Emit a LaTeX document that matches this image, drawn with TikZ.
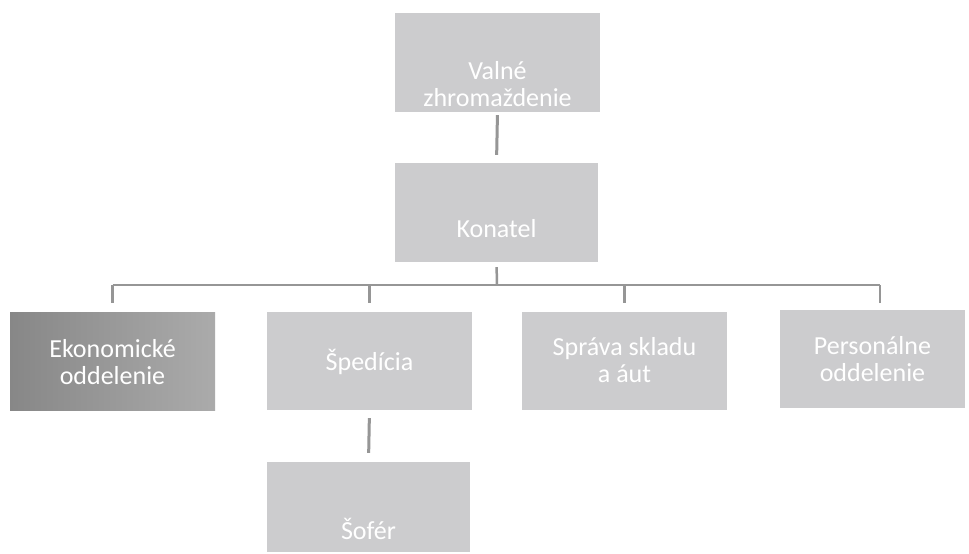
\documentclass[tikz,border=0pt]{standalone}
\usepackage{fontspec}
\setmainfont{Carlito}
\definecolor{boxgray}{RGB}{204,204,206}
\definecolor{linegray}{RGB}{150,150,150}
\begin{document}
\begin{tikzpicture}[x=1pt,y=-1pt,
  orgbox/.style={rectangle, fill=boxgray, draw=none, text=white, align=center,
    font=\fontsize{26}{27}\selectfont, inner sep=0pt},
  conn/.style={draw=linegray, line width=2.5pt}]
\useasboundingbox (0,0) rectangle (969,554);
\fill[white] (0,0) rectangle (969,554);
% boxes
\node[orgbox, minimum width=205pt, minimum height=99pt] (vz) at (497.5,62.5) {};
\node[orgbox, minimum width=203pt, minimum height=99pt] (kon) at (496.5,212.5) {};
\node[orgbox, minimum width=205pt, minimum height=98pt, fill=none, left color=black!47, right color=black!33] (eko) at (112.5,361) {};
\node[orgbox, minimum width=205pt, minimum height=98pt] (spe) at (369.5,361) {};
\node[orgbox, minimum width=205pt, minimum height=98pt] (spr) at (624.5,361) {};
\node[orgbox, minimum width=185pt, minimum height=98pt] (per) at (872.5,359) {};
\node[orgbox, minimum width=203pt, minimum height=90pt] (sof) at (368.5,507) {};
% texts
\node[orgbox, fill=none] (vzt) at (497.5,84) {Valné\\zhromaždenie};
\node[orgbox, fill=none] (kont) at (496.5,229) {Konatel};
\node[orgbox, fill=none] (ekot) at (112.5,362) {Ekonomické\\oddelenie};
\node[orgbox, fill=none] (spet) at (369.5,362) {Špedícia};
\node[orgbox, fill=none] (sprt) at (624.5,360) {Správa skladu\\a áut};
\node[orgbox, fill=none] (pert) at (872.5,359) {Personálne\\oddelenie};
\node[orgbox, fill=none] (soft) at (368.5,529) {Šofér};
% connectors
\coordinate (bus) at (497,285);
\coordinate (d4) at (880,303);
\draw[conn, line width=3pt, shorten <=3pt, shorten >=8pt] (vz.south) -- (kon.north);
\draw[conn, shorten <=5pt] (kon.south) -- (bus);
\draw[conn] (eko.north |- bus) -- (d4 |- bus);
\draw[conn, shorten <=9pt] (eko.north) -- (eko.north |- bus);
\draw[conn, shorten <=9pt] (spe.north) -- (spe.north |- bus);
\draw[conn, shorten <=9pt] (spr.north) -- (spr.north |- bus);
\draw[conn] (d4) -- (d4 |- bus);
\draw[conn, line width=3pt, shorten <=8pt, shorten >=9pt] (spe.south) -- (sof.north);
\end{tikzpicture}
\end{document}
